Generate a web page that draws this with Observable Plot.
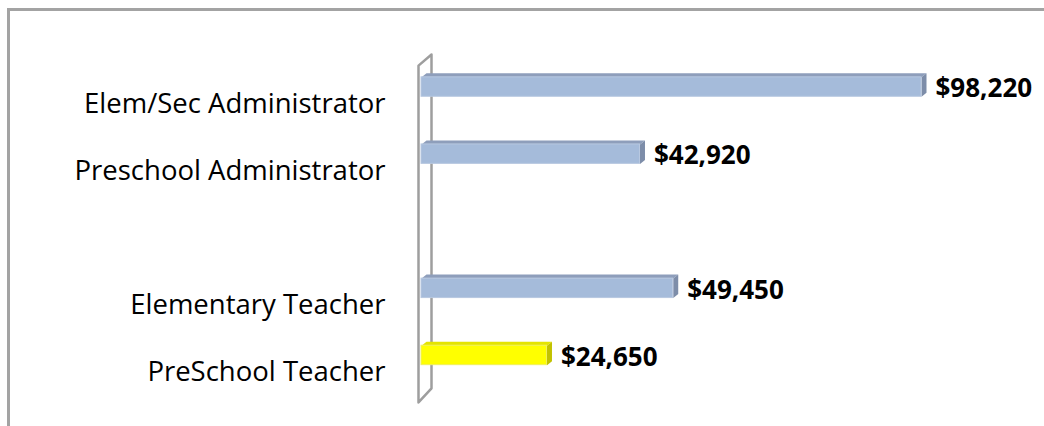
<!DOCTYPE html>
<html>
<head>
<meta charset="utf-8">
<script src="https://cdn.jsdelivr.net/npm/d3@7"></script>
<script src="https://cdn.jsdelivr.net/npm/@observablehq/plot@0.6"></script>
<style>
  html, body { margin: 0; padding: 0; background: #fff; overflow: hidden; }
  #wrap { position: relative; width: 1044px; height: 426px; overflow: hidden; }
  #frame { position: absolute; left: 7px; top: 8px; width: 1100px; height: 500px;
           border-top: 3px solid #a3a3a3; border-left: 3px solid #a3a3a3; box-sizing: border-box; }
  #chart { position: absolute; left: 0; top: 0; }
</style>
</head>
<body>
<div id="wrap"><div id="frame"></div><div id="chart"></div></div>
<script>
// ---- data ----
const categories = ["Elem/Sec Administrator", "Preschool Administrator", "", "Elementary Teacher", "PreSchool Teacher"];
const salaries = [98220, 42920, null, 49450, 24650];
const highlighted = [false, false, false, false, true];

// ---- styling constants ----
const W = 1044, H = 426;
const marginLeft = 421, marginRight = 123, marginTop = 53, marginBottom = 37.5;
const xMax = d3.max(salaries);
const pxPerX = (W - marginLeft - marginRight) / xMax;
const pxPerY = (H - marginTop - marginBottom) / 5;
const barH = 0.29;                 // band units
const depthX = 5 / pxPerX;         // 5px to the right
const depthY = 4 / pxPerY;         // 4px up

const palette = {
  blue:   {front: "#A5BBDA", top: "#8E9EBB", side: "#7D8DA9", edge: "#B8C8E0"},
  yellow: {front: "#FFFF00", top: "#E4E400", side: "#C2C200", edge: "#F0F060"}
};

const rows = categories.map((name, i) => ({name, i, value: salaries[i], c: highlighted[i] ? palette.yellow : palette.blue}))
  .filter(d => d.value != null);

// 3D faces as polygons in data space
const faces = [];
rows.forEach(d => {
  const yT = d.i - barH / 2, yB = d.i + barH / 2, v = d.value;
  const top = [[0, yT], [v, yT], [v + depthX, yT - depthY], [depthX, yT - depthY]];
  const side = [[v, yT], [v + depthX, yT - depthY], [v + depthX, yB - depthY], [v, yB]];
  top.forEach(([x, y]) => faces.push({x, y, face: "t" + d.i, fill: d.c.top}));
  side.forEach(([x, y]) => faces.push({x, y, face: "s" + d.i, fill: d.c.side}));
});

// axis wall outline (front edge just left of the baseline, back edge behind it)
const wallFrontX = -3 / pxPerX, wallBackX = 10 / pxPerX;
const wall = [
  {x: wallFrontX, y: -0.32}, {x: wallFrontX, y: 4.70},
  {x: wallBackX, y: 4.49}, {x: wallBackX, y: -0.485}
];

const fmt = v => "$" + d3.format(",")(v);

const chart = Plot.plot({
  width: W, height: H,
  marginLeft, marginRight, marginTop, marginBottom,
  x: {domain: [0, xMax], axis: null},
  y: {domain: [4.5, -0.5], axis: null},
  color: {type: "identity"},
  style: {background: "transparent", fontFamily: "'Open Sans', sans-serif", overflow: "visible"},
  marks: [
    Plot.line(wall, {x: "x", y: "y", curve: "linear-closed", stroke: "#9e9e9e", strokeWidth: 2.5, fill: "none"}),
    Plot.line(faces, {x: "x", y: "y", z: "face", fill: "fill", stroke: "none", curve: "linear-closed"}),
    Plot.rect(rows, {x1: 0, x2: "value", y1: d => d.i - barH / 2, y2: d => d.i + barH / 2,
      fill: d => d.c.front, stroke: d => d.c.edge, strokeWidth: 1}),
    Plot.text(rows, {x: 0, y: "i", text: "name", textAnchor: "end", dx: -36, dy: 17,
      fontSize: 27.5, fill: "#000"}),
    Plot.text(rows, {x: "value", y: "i", text: d => fmt(d.value), textAnchor: "start", dx: 14, dy: 2,
      fontSize: 26, fontWeight: "bold", fill: "#000"})
  ]
});
document.getElementById("chart").appendChild(chart);
</script>
</body>
</html>
